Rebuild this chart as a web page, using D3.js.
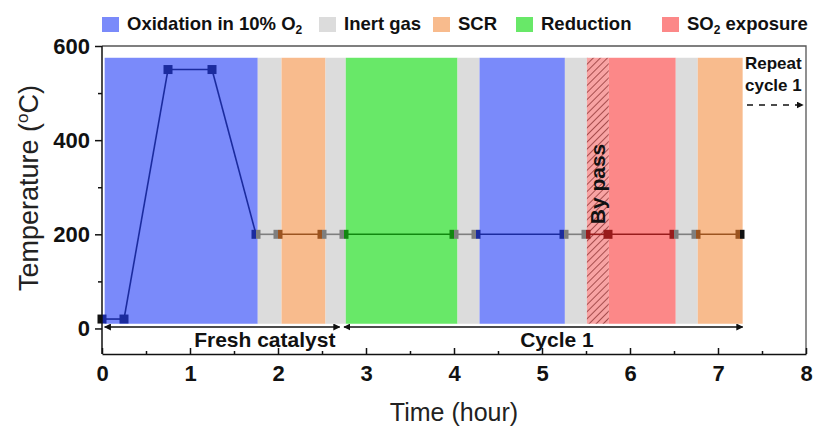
<!DOCTYPE html>
<html>
<head>
<meta charset="utf-8">
<script src="https://cdn.jsdelivr.net/npm/d3@7"></script>
<style>
  html, body { margin: 0; padding: 0; background: #fff; }
  svg { display: block; font-family: "Liberation Sans", Arial, sans-serif; }
</style>
</head>
<body>
<svg id="chart" width="815" height="430"></svg>
<script>
// Gas-phase schedule: band start/end times (hour) and the phase of each band
const bandStart = [0.03, 1.77, 2.04, 2.54, 2.77, 4.04, 4.29, 5.26, 5.51, 5.76, 6.52, 6.77];
const bandEnd   = [1.77, 2.04, 2.54, 2.77, 4.04, 4.29, 5.26, 5.51, 5.76, 6.52, 6.77, 7.28];
const bandPhase = ["ox", "inert", "scr", "inert", "red", "inert", "ox", "inert", "bypass", "so2", "inert", "scr"];
const bandTop = 575, bandBottom = 10;

// Temperature programme (hour, °C)
const times = [0, 0.25, 0.75, 1.25, 1.75, 2.0, 2.5, 2.75, 4.0, 4.25, 5.25, 5.5, 5.75, 6.5, 6.75, 7.25];
const temps = [20, 20, 550, 550, 200, 200, 200, 200, 200, 200, 200, 200, 200, 200, 200, 200];
// Phase of each segment between consecutive points
const segPhase = ["ox", "ox", "ox", "ox", "inert", "scr", "inert", "red", "inert", "ox", "inert", "so2", "so2", "inert", "scr"];

// Legend
const legendKeys = ["ox", "inert", "scr", "red", "so2"];
const legendLabels = [["Oxidation in 10% O", "2", ""], ["Inert gas", "", ""], ["SCR", "", ""], ["Reduction", "", ""], ["SO", "2", " exposure"]];

// Axis ticks
const xTicks = [0, 1, 2, 3, 4, 5, 6, 7, 8];
const xMinor = [0.5, 1.5, 2.5, 3.5, 4.5, 5.5, 6.5, 7.5];
const yTicks = [0, 200, 400, 600];
const yMinor = [100, 300, 500];

// Span annotations (arrow extent and label centre, hours)
const spanLabels = ["Fresh catalyst", "Cycle 1"];
const spanFrom = [0.03, 2.75];
const spanTo = [2.7, 7.28];
const spanLabelAt = [1.85, 5.17];

const fillColor = { ox: "#7a8afa", inert: "#dcdcdc", scr: "#f8bb8d", red: "#68e868", so2: "#fc8888", bypass: "#f8a3a3" };
const lineColor = { ox: "#1b2b9e", inert: "#7f7f7f", scr: "#9c5420", red: "#11880f", so2: "#981c1c", end: "#111" };

const svg = d3.select("#chart");
const plotL = 102, plotR = 806, plotT = 46, plotB = 352;
const x = d3.scaleLinear().domain([0, 8]).range([plotL, plotR]);
const y = d3.scaleLinear().domain([-50, 600]).range([plotB, plotT]);

const defs = svg.append("defs");
const pat = defs.append("pattern").attr("id", "hatch").attr("patternUnits", "userSpaceOnUse")
  .attr("width", 5).attr("height", 5).attr("patternTransform", "rotate(45)");
pat.append("rect").attr("width", 5).attr("height", 5).attr("fill", fillColor.bypass);
pat.append("line").attr("x1", 0).attr("y1", 0).attr("x2", 0).attr("y2", 5)
  .attr("stroke", "#7a1e1e").attr("stroke-width", 1.3);
defs.append("marker").attr("id", "arr").attr("viewBox", "0 0 10 10")
  .attr("refX", 9).attr("refY", 5).attr("markerWidth", 7).attr("markerHeight", 7)
  .attr("markerUnits", "userSpaceOnUse").attr("orient", "auto-start-reverse")
  .append("path").attr("d", "M0,0L10,5L0,10Z").attr("fill", "#111");

// Phase bands
svg.append("g").selectAll("rect").data(bandPhase).join("rect")
  .attr("x", (d, i) => x(bandStart[i]))
  .attr("width", (d, i) => x(bandEnd[i]) - x(bandStart[i]))
  .attr("y", y(bandTop))
  .attr("height", y(bandBottom) - y(bandTop))
  .attr("fill", d => d === "bypass" ? "url(#hatch)" : fillColor[d]);

// Frame (top and right)
svg.append("path").attr("d", `M${plotL},${plotT}H${plotR}V${plotB + 2}`)
  .attr("fill", "none").attr("stroke", "#555").attr("stroke-width", 1.3);

// Temperature programme segments
const pts = times.map((t, i) => [x(t), y(temps[i])]);
svg.append("g").selectAll("line").data(segPhase).join("line")
  .attr("x1", (d, i) => pts[i][0]).attr("y1", (d, i) => pts[i][1])
  .attr("x2", (d, i) => pts[i + 1][0]).attr("y2", (d, i) => pts[i + 1][1])
  .attr("stroke", d => lineColor[d]).attr("stroke-width", 1.6);

// Square markers, each split into the colours of the two adjoining segments
const ms = 9;
const mk = svg.append("g");
pts.forEach((p, i) => {
  const lc = i === 0 ? lineColor.end : lineColor[segPhase[i - 1]];
  const rc = i === pts.length - 1 ? lineColor.end : lineColor[segPhase[i]];
  mk.append("rect").attr("x", p[0] - ms / 2).attr("y", p[1] - ms / 2)
    .attr("width", ms / 2).attr("height", ms).attr("fill", lc);
  mk.append("rect").attr("x", p[0]).attr("y", p[1] - ms / 2)
    .attr("width", ms / 2).attr("height", ms).attr("fill", rc);
});

// Axes
const xAxis = svg.append("g").attr("transform", `translate(0,${plotB + 2})`)
  .call(d3.axisBottom(x).tickValues(xTicks).tickFormat(d3.format("d")).tickSizeInner(-6).tickSizeOuter(0));
svg.append("g").attr("transform", `translate(0,${plotB + 2})`)
  .call(d3.axisBottom(x).tickValues(xMinor).tickFormat("").tickSizeInner(-3).tickSizeOuter(0))
  .call(g => g.select(".domain").remove());
xAxis.selectAll(".tick text").attr("y", 11).attr("dy", "0.71em");

const yAxis = svg.append("g").attr("transform", `translate(${plotL},0)`)
  .call(d3.axisLeft(y).tickValues(yTicks).tickSizeInner(7).tickSizeOuter(0));
svg.append("g").attr("transform", `translate(${plotL},0)`)
  .call(d3.axisLeft(y).tickValues(yMinor).tickFormat("").tickSizeInner(4).tickSizeOuter(0))
  .call(g => g.select(".domain").remove());
yAxis.select(".domain").attr("d", `M0,${plotT}V${plotB + 2}`);
yAxis.selectAll(".tick text").attr("x", -12);

svg.selectAll(".domain, .tick line").attr("stroke", "#111").attr("stroke-width", 1.5);
svg.selectAll(".tick text").attr("font-size", 22).attr("font-weight", "bold").attr("fill", "#111")
  .attr("font-family", "Liberation Sans, Arial, sans-serif");

// Axis titles
svg.append("text").attr("x", (plotL + plotR) / 2).attr("y", 421).attr("text-anchor", "middle")
  .attr("font-size", 25).attr("fill", "#222").text("Time (hour)");
const yt = svg.append("text").attr("transform", `translate(38,${188}) rotate(-90)`)
  .attr("text-anchor", "middle").attr("font-size", 27).attr("fill", "#222");
yt.append("tspan").text("Temperature (");
yt.append("tspan").attr("font-size", 17).attr("dy", -10).text("o");
yt.append("tspan").attr("dy", 10).text("C)");

// Span arrows and labels
spanLabels.forEach((lab, i) => {
  svg.append("line").attr("x1", x(spanFrom[i])).attr("x2", x(spanTo[i]))
    .attr("y1", 327).attr("y2", 327).attr("stroke", "#111").attr("stroke-width", 1.4)
    .attr("marker-start", "url(#arr)").attr("marker-end", "url(#arr)");
  svg.append("text").attr("x", x(spanLabelAt[i])).attr("y", 347)
    .attr("text-anchor", "middle").attr("font-size", 21).attr("font-weight", "bold").attr("fill", "#111")
    .text(lab);
});

// By-pass label
svg.append("text").attr("transform", `translate(${x(5.63) + 8},${184}) rotate(-90)`)
  .attr("text-anchor", "middle").attr("font-size", 21).attr("font-weight", "bold").attr("fill", "#111")
  .text("By pass");

// Repeat note
const rp = svg.append("text").attr("x", 745).attr("font-size", 17).attr("font-weight", "bold").attr("fill", "#111");
rp.append("tspan").attr("x", 745).attr("y", 69).text("Repeat");
rp.append("tspan").attr("x", 745).attr("y", 91).text("cycle 1");
svg.append("line").attr("x1", 747).attr("x2", 803).attr("y1", 105).attr("y2", 105)
  .attr("stroke", "#111").attr("stroke-width", 1.4).attr("stroke-dasharray", "6,6")
  .attr("marker-end", "url(#arr)");

// Legend
const legX = [102, 319, 433, 516, 662];
const lg = svg.append("g");
legendKeys.forEach((k, i) => {
  lg.append("rect").attr("x", legX[i]).attr("y", 17).attr("width", 17).attr("height", 15)
    .attr("fill", fillColor[k]);
  const t = lg.append("text").attr("x", legX[i] + 25).attr("y", 30)
    .attr("font-size", 18.5).attr("font-weight", "bold").attr("fill", "#111");
  const [a, sub, b] = legendLabels[i];
  t.append("tspan").text(a);
  if (sub) {
    t.append("tspan").attr("font-size", 12).attr("dy", 4).text(sub);
    if (b) t.append("tspan").attr("dy", -4).text(b);
  }
});
</script>
</body>
</html>
